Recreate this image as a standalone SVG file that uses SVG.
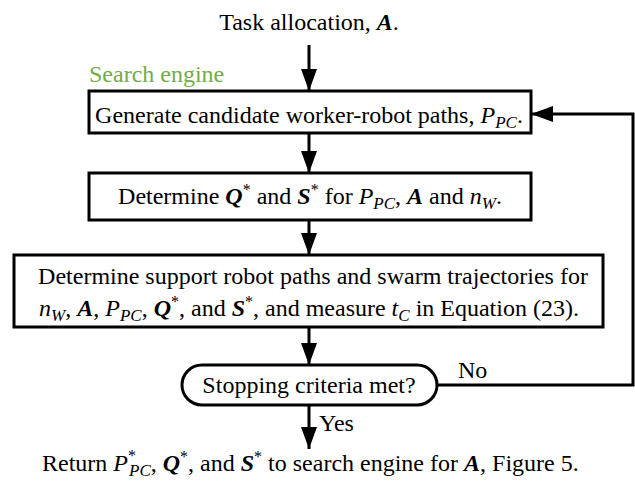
<svg xmlns="http://www.w3.org/2000/svg" width="635" height="486" viewBox="0 0 635 486" font-family="'Liberation Serif', serif" font-size="24">
  <defs>
    <marker id="arrow" viewBox="0 0 22 16" refX="22" refY="8" markerWidth="22" markerHeight="16" markerUnits="userSpaceOnUse" orient="auto">
      <path d="M0,0 L22,8 L0,16 Z" fill="#000"/>
    </marker>
    <style>
      .box { fill: #fff; stroke: #000; stroke-width: 3; }
      .conn { fill: none; stroke: #000; stroke-width: 3; marker-end: url(#arrow); }
      .it { font-style: italic; }
      .bi { font-style: italic; font-weight: bold; }
      .sub { font-style: italic; font-size: 17px; }
      .sup { font-size: 16px; }
      .green { fill: #70AD47; }
    </style>
  </defs>

  <!-- connectors -->
  <g id="connectors">
    <line class="conn" x1="309" y1="45" x2="309" y2="91"/>
    <line class="conn" x1="309" y1="133" x2="309" y2="173"/>
    <line class="conn" x1="309" y1="220" x2="309" y2="255"/>
    <line class="conn" x1="309" y1="327" x2="309" y2="365"/>
    <line class="conn" x1="309" y1="405" x2="309" y2="449"/>
    <polyline class="conn" points="437,385 633,385 633,114 531,114"/>
    <text x="458" y="378">No</text>
    <text x="319" y="431">Yes</text>
  </g>

  <!-- input -->
  <g id="input">
    <text x="309" y="30" text-anchor="middle">Task allocation, <tspan class="bi">A</tspan>.</text>
  </g>

  <g id="label-search-engine">
    <text class="green" x="89" y="82">Search engine</text>
  </g>

  <!-- generate candidate paths -->
  <g id="generate">
    <rect class="box" x="89" y="91" width="442" height="42"/>
    <text x="309" y="123" text-anchor="middle">Generate candidate worker-robot paths, <tspan class="it">P</tspan><tspan class="sub" dy="5">PC</tspan><tspan dy="-5">.</tspan></text>
  </g>

  <!-- determine Q and S -->
  <g id="determine-qs">
    <rect class="box" x="89" y="173" width="442" height="47"/>
    <text x="310" y="204" text-anchor="middle">Determine <tspan class="bi">Q</tspan><tspan class="sup" dy="-9">*</tspan><tspan dy="9"> and </tspan><tspan class="bi">S</tspan><tspan class="sup" dy="-9">*</tspan><tspan dy="9"> for </tspan><tspan class="it">P</tspan><tspan class="sub" dy="5">PC</tspan><tspan dy="-5">, </tspan><tspan class="bi">A</tspan> and <tspan class="it">n</tspan><tspan class="sub" dy="5">W</tspan><tspan dy="-5">.</tspan></text>
  </g>

  <!-- support robot paths and swarm trajectories -->
  <g id="support-paths">
    <rect class="box" x="14" y="255" width="589" height="72"/>
    <text x="313" y="284" text-anchor="middle">Determine support robot paths and swarm trajectories for</text>
    <text x="309" y="316" text-anchor="middle"><tspan class="it">n</tspan><tspan class="sub" dy="5">W</tspan><tspan dy="-5">, </tspan><tspan class="bi">A</tspan>, <tspan class="it">P</tspan><tspan class="sub" dy="5">PC</tspan><tspan dy="-5">, </tspan><tspan class="bi">Q</tspan><tspan class="sup" dy="-9">*</tspan><tspan dy="9">, and </tspan><tspan class="bi">S</tspan><tspan class="sup" dy="-9">*</tspan><tspan dy="9">, and measure </tspan><tspan class="it">t</tspan><tspan class="sub" dy="5">C</tspan><tspan dy="-5"> in Equation (23).</tspan></text>
  </g>

  <!-- stopping decision -->
  <g id="stopping">
    <rect class="box" x="182" y="365" width="255" height="40" rx="20" ry="20"/>
    <text x="309" y="393" text-anchor="middle">Stopping criteria met?</text>
  </g>

  <!-- output: stacked super/subscript on P -->
  <g id="output">
    <text x="42" y="471">Return <tspan class="it">P</tspan><tspan class="sup" dy="-10">*</tspan><tspan class="sub" dx="-7" dy="15">PC</tspan><tspan dy="-5">, </tspan><tspan class="bi">Q</tspan><tspan class="sup" dy="-9">*</tspan><tspan dy="9">, and </tspan><tspan class="bi">S</tspan><tspan class="sup" dy="-9">*</tspan><tspan dy="9"> to search engine for </tspan><tspan class="bi">A</tspan>, Figure 5.</text>
  </g>
</svg>
